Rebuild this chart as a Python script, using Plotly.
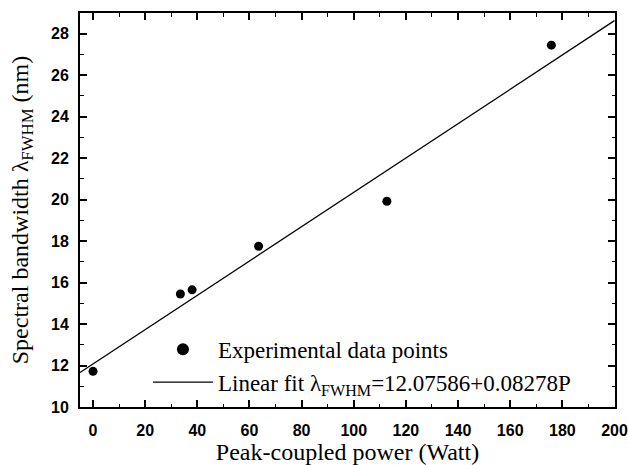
import plotly.graph_objects as go

# Data
power = [0, 33.5, 38, 63.5, 112.7, 175.8]
bandwidth = [11.72, 15.45, 15.65, 17.75, 19.92, 27.45]

fit_intercept = 12.07586
fit_slope = 0.08278
fit_x = [-5, 200]
fit_y = [fit_intercept + fit_slope * v for v in fit_x]

x_ticks = list(range(0, 201, 20))
y_ticks = list(range(10, 29, 2))

serif = "Liberation Serif, Times New Roman, serif"
sans = "Liberation Sans, Arial, sans-serif"

fig = go.Figure()

fig.add_trace(go.Scatter(
    x=fit_x, y=fit_y, mode="lines",
    line=dict(color="black", width=1.3),
    name="Linear fit λ<sub>FWHM</sub>=12.07586+0.08278P",
    showlegend=False,
))
fig.add_trace(go.Scatter(
    x=power, y=bandwidth, mode="markers",
    marker=dict(color="black", size=9),
    name="Experimental data points",
    showlegend=False,
))
# legend entries
fig.add_trace(go.Scatter(
    x=[None], y=[None], mode="markers",
    marker=dict(color="black", size=12),
    name="Experimental data points",
))
fig.add_trace(go.Scatter(
    x=[None], y=[None], mode="lines",
    line=dict(color="black", width=1.3),
    name="Linear fit λ<sub>FWHM</sub>=12.07586+0.08278P",
))

axis_common = dict(
    showline=True, linecolor="black", linewidth=2, mirror="ticks",
    ticks="inside", ticklen=7, tickwidth=1.5, tickcolor="black",
    showgrid=False, zeroline=False, automargin=False,
    ticklabeloverflow="allow",
    tickfont=dict(family=sans, size=16, color="black", weight="bold"),
)

fig.update_xaxes(
    range=[-5, 200.2], tickvals=x_ticks,
    minor=dict(ticks="inside", ticklen=3.5, tickwidth=1.2, tickcolor="black", dtick=10, tick0=0),
    title=dict(text="Peak-coupled power (Watt)", font=dict(family=serif, size=24, color="black"), standoff=6),
    ticklabelstandoff=8,
    **axis_common,
)
fig.update_yaxes(
    range=[10, 29], tickvals=y_ticks,
    minor=dict(ticks="inside", ticklen=3.5, tickwidth=1.2, tickcolor="black", dtick=1, tick0=10),
    title=dict(text="Spectral bandwidth λ<sub>FWHM</sub> (nm)", font=dict(family=serif, size=24, color="black"), standoff=16),
    ticklabelstandoff=6,
    **axis_common,
)

fig.update_layout(
    width=628, height=465,
    margin=dict(l=80, r=13, t=13, b=58),
    plot_bgcolor="white", paper_bgcolor="white",
    legend=dict(
        x=0.127, y=0.008, xanchor="left", yanchor="bottom",
        bgcolor="rgba(0,0,0,0)",
        font=dict(family=serif, size=23, color="black"),
        tracegroupgap=0, itemwidth=60,
    ),
)

fig.write_html(
    "out.html",
    config={"displayModeBar": False},
    post_script="document.body.style.margin='0';document.body.style.overflow='hidden';",
)
